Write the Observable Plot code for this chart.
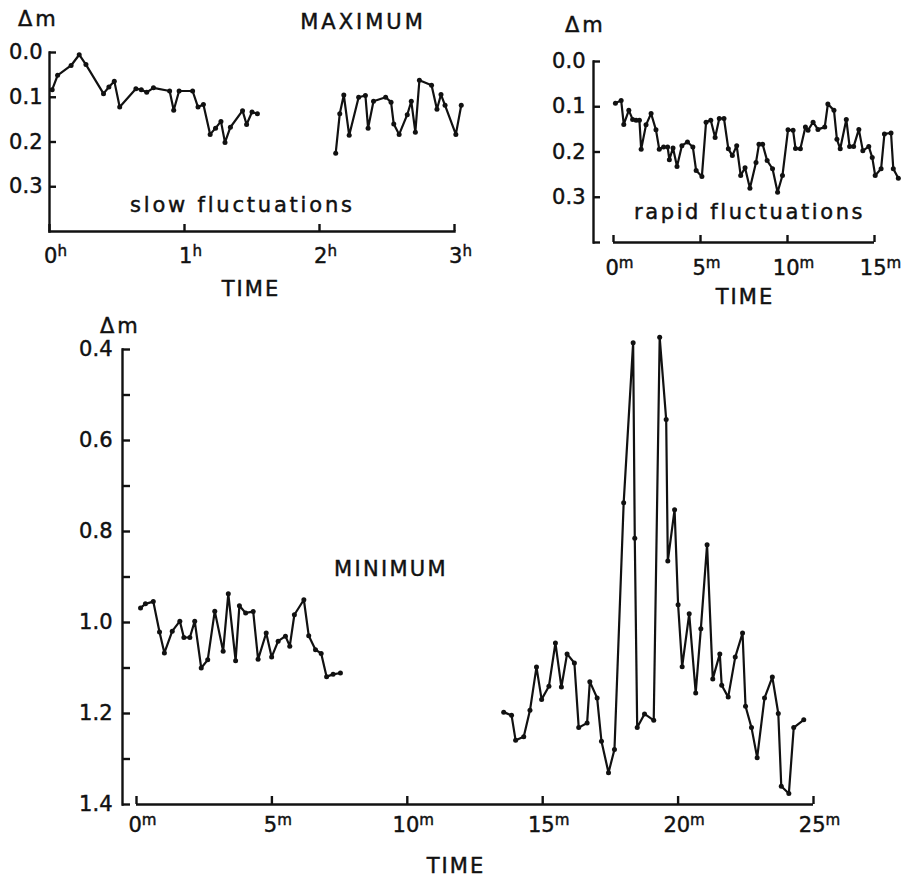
<!DOCTYPE html>
<html>
<head>
<meta charset="utf-8">
<script src="https://cdn.jsdelivr.net/npm/d3@7"></script>
<script src="https://cdn.jsdelivr.net/npm/@observablehq/plot@0.6"></script>
<style>
  body { margin: 0; background: #fff; }
  #wrap { position: relative; width: 916px; height: 879px; overflow: hidden; font-family: "DejaVu Sans", sans-serif; color: #111; background: #fff; }
  #wrap svg { position: absolute; }
  #wrap svg text { stroke: #111; stroke-width: 0.45px; }
  .lbl { position: absolute; white-space: nowrap; line-height: 1; color: #111; -webkit-text-stroke: 0.45px #111; }
</style>
</head>
<body>
<div id="wrap"></div>
<script>
// ---------- DATA ----------
// MAXIMUM, slow fluctuations (time in hours, Δm)
const slowTimeA = [0.02,0.06,0.16,0.22,0.27,0.40,0.44,0.48,0.52,0.64,0.68,0.72,0.77,0.89,0.92,0.96,1.06,1.10,1.14,1.19,1.23,1.27,1.30,1.34,1.43,1.46,1.50,1.54];
const slowDmA   = [0.083,0.051,0.029,0.005,0.027,0.092,0.077,0.064,0.122,0.081,0.083,0.089,0.079,0.086,0.129,0.086,0.086,0.122,0.116,0.183,0.169,0.154,0.201,0.167,0.130,0.161,0.133,0.137];
const slowTimeB = [2.12,2.15,2.18,2.22,2.29,2.34,2.36,2.40,2.49,2.53,2.55,2.59,2.65,2.68,2.71,2.74,2.83,2.87,2.90,2.93,3.01,3.05];
const slowDmB   = [0.225,0.137,0.095,0.185,0.100,0.096,0.169,0.109,0.100,0.111,0.160,0.183,0.139,0.109,0.178,0.062,0.073,0.127,0.094,0.118,0.183,0.118];

// MAXIMUM, rapid fluctuations (time in minutes, Δm)
const rapidTime = [0.11,0.44,0.59,0.88,1.10,1.30,1.49,1.59,1.87,2.16,2.44,2.63,2.88,3.11,3.21,3.42,3.65,3.93,4.25,4.56,4.75,5.08,5.32,5.59,5.84,6.08,6.35,6.60,6.83,7.08,7.31,7.56,7.84,8.19,8.36,8.57,8.83,9.14,9.43,9.71,10.03,10.32,10.46,10.74,11.03,11.18,11.47,11.75,12.14,12.32,12.67,12.84,13.03,13.38,13.57,13.80,14.10,14.33,14.67,14.87,15.04,15.38,15.57,15.95,16.08,16.37];
const rapidDm   = [0.092,0.086,0.139,0.108,0.128,0.130,0.130,0.194,0.140,0.115,0.151,0.194,0.189,0.189,0.217,0.191,0.232,0.186,0.178,0.189,0.241,0.254,0.134,0.130,0.168,0.126,0.126,0.193,0.208,0.186,0.252,0.235,0.280,0.223,0.183,0.183,0.219,0.237,0.289,0.252,0.151,0.152,0.192,0.193,0.145,0.152,0.134,0.150,0.145,0.094,0.108,0.172,0.193,0.128,0.188,0.188,0.150,0.197,0.188,0.212,0.252,0.237,0.160,0.158,0.237,0.258];

// MINIMUM (time in minutes, Δm)
const minTimeA = [0.15,0.33,0.62,0.85,1.03,1.32,1.60,1.75,1.97,2.15,2.39,2.63,2.89,3.20,3.39,3.66,3.80,4.03,4.31,4.49,4.79,4.99,5.23,5.50,5.66,5.83,6.18,6.36,6.61,6.82,7.02,7.26,7.53];
const minDmA   = [0.968,0.959,0.954,1.021,1.067,1.019,0.997,1.033,1.033,0.997,1.100,1.082,0.975,1.063,0.937,1.084,0.963,0.979,0.976,1.081,1.023,1.076,1.041,1.030,1.052,0.983,0.950,1.029,1.060,1.068,1.119,1.114,1.111];
const minTimeB = [13.56,13.85,14.00,14.30,14.53,14.77,14.96,15.23,15.47,15.69,15.90,16.17,16.33,16.64,16.74,17.01,17.17,17.43,17.65,17.99,18.34,18.40,18.49,18.76,19.10,19.32,19.56,19.62,19.87,20.00,20.15,20.41,20.65,20.84,21.07,21.28,21.54,21.61,21.85,22.11,22.38,22.49,22.71,22.92,23.19,23.48,23.70,23.81,24.09,24.27,24.64];
const minDmB   = [1.197,1.204,1.259,1.251,1.193,1.098,1.169,1.140,1.045,1.142,1.069,1.089,1.231,1.221,1.130,1.166,1.261,1.330,1.279,0.737,0.385,0.815,1.231,1.201,1.215,0.373,0.554,0.865,0.752,0.961,1.097,0.981,1.155,1.014,0.829,1.124,1.069,1.138,1.164,1.076,1.023,1.184,1.231,1.297,1.166,1.120,1.200,1.360,1.376,1.231,1.214];

// Ticks
const slowHourTicks  = [0, 1, 2, 3];
const maxDmLabels    = [0.0, 0.1, 0.2, 0.3];
const rapidDmTicks   = [0.0, 0.1, 0.2, 0.3, 0.4];
const rapidMinTicks  = [0, 5, 10, 15];
const minMinTicks    = [0, 5, 10, 15, 20, 25];
const minDmTicks     = [0.4, 0.5, 0.6, 0.7, 0.8, 0.9, 1.0, 1.1, 1.2, 1.3, 1.4];
const minDmLabels    = [0.4, 0.6, 0.8, 1.0, 1.2, 1.4];

// Text
const labelDm = "Δm";
const labelTime = "TIME";
const titleMax = "MAXIMUM";
const titleMin = "MINIMUM";
const noteSlow = "slow fluctuations";
const noteRapid = "rapid fluctuations";

// ---------- BUILD ----------
const zip = (ts, ds, seg) => ts.map((t, i) => ({t, dm: ds[i], seg}));
const slowData  = [...zip(slowTimeA, slowDmA, "a"), ...zip(slowTimeB, slowDmB, "b")];
const rapidData = zip(rapidTime, rapidDm, "a");
const minData   = [...zip(minTimeA, minDmA, "a"), ...zip(minTimeB, minDmB, "b")];

const FONT = '"DejaVu Sans", sans-serif';
const INK = "#111";
const LW = 2.2;
const AW = 2.4;
const wrap = document.getElementById("wrap");
const f1 = d3.format(".1f");

function superscript(svg, suffix) {
  svg.querySelectorAll('g[aria-label="x-axis tick label"] text').forEach(t => {
    const s = document.createElementNS("http://www.w3.org/2000/svg", "tspan");
    s.setAttribute("dy", "-0.5em");
    s.setAttribute("font-size", "0.72em");
    s.textContent = suffix;
    t.appendChild(s);
    t.setAttribute("dx", "6");
  });
}

function place(svg, left, top) {
  svg.style.left = left + "px";
  svg.style.top = top + "px";
  wrap.appendChild(svg);
}

function addLabel(text, x, baseline, {size = 21, anchor = "start", ls = 2} = {}) {
  const d = document.createElement("div");
  d.className = "lbl";
  d.textContent = text;
  d.style.fontSize = size + "px";
  d.style.letterSpacing = ls + "px";
  d.style.top = (baseline - 0.846 * size) + "px";
  d.style.left = x + "px";
  if (anchor === "middle") d.style.transform = "translateX(-50%)";
  wrap.appendChild(d);
}

const baseStyle = {fontFamily: FONT, fontSize: "21px", color: INK, background: "transparent", overflow: "visible"};

// Panel 1: MAXIMUM slow fluctuations
const p1 = Plot.plot({
  width: 480, height: 310,
  marginLeft: 49, marginRight: 26, marginTop: 52, marginBottom: 79,
  style: baseStyle,
  x: {domain: [0, 3]},
  y: {domain: [0, 0.4], reverse: true},
  marks: [
    Plot.frame({anchor: "left", strokeWidth: AW}),
    Plot.frame({anchor: "bottom", strokeWidth: AW}),
    Plot.axisY(maxDmLabels, {tickSize: -7, tickPadding: 14, strokeWidth: AW, tickFormat: f1, label: null}),
    Plot.axisX(slowHourTicks, {tickSize: -7, tickPadding: 24, strokeWidth: AW, tickFormat: d => String(d), label: null}),
    Plot.line(slowData, {x: "t", y: "dm", z: "seg", stroke: INK, strokeWidth: LW}),
    Plot.dot(slowData, {x: "t", y: "dm", r: 2.5, fill: INK})
  ]
});
superscript(p1, "h");
place(p1, 0, 0);

// Panel 2: MAXIMUM rapid fluctuations
const p2 = Plot.plot({
  width: 376, height: 320,
  marginLeft: 53, marginRight: 42, marginTop: 61, marginBottom: 78,
  style: baseStyle,
  x: {domain: [0, 15], insetLeft: 20},
  y: {domain: [0, 0.4], reverse: true},
  marks: [
    Plot.frame({anchor: "left", strokeWidth: AW}),
    Plot.ruleY([0.4], {x1: () => d3.min(rapidMinTicks), x2: () => d3.max(rapidMinTicks), strokeWidth: AW}),
    Plot.axisY(rapidDmTicks, {tickSize: -7, tickPadding: 15, strokeWidth: AW, tickFormat: d => maxDmLabels.includes(d) ? f1(d) : "", label: null}),
    Plot.axisX(rapidMinTicks, {tickSize: -7, tickPadding: 25, strokeWidth: AW, tickFormat: d => String(d), label: null}),
    Plot.line(rapidData, {x: "t", y: "dm", stroke: INK, strokeWidth: LW}),
    Plot.dot(rapidData, {x: "t", y: "dm", r: 2.5, fill: INK})
  ]
});
superscript(p2, "m");
place(p2, 540, 0);

// Panel 3: MINIMUM
const p3 = Plot.plot({
  width: 916, height: 579,
  marginLeft: 122, marginRight: 103, marginTop: 49, marginBottom: 75,
  style: baseStyle,
  x: {domain: [0, 25], insetLeft: 14},
  y: {domain: [0.4, 1.4], reverse: true},
  marks: [
    Plot.frame({anchor: "left", strokeWidth: AW}),
    Plot.ruleY([1.4], {x1: () => d3.min(minMinTicks), x2: () => d3.max(minMinTicks), strokeWidth: AW}),
    Plot.axisY(minDmTicks, {tickSize: -8, tickPadding: 18, strokeWidth: AW, tickFormat: d => minDmLabels.includes(d) ? f1(d) : "", label: null}),
    Plot.axisX(minMinTicks, {tickSize: -8, tickPadding: 21, strokeWidth: AW, tickFormat: d => String(d), label: null}),
    Plot.line(minData, {x: "t", y: "dm", z: "seg", stroke: INK, strokeWidth: LW}),
    Plot.dot(minData, {x: "t", y: "dm", r: 2.5, fill: INK})
  ]
});
superscript(p3, "m");
place(p3, 0, 300);

// Titles and annotations
addLabel(labelDm, 18, 27, {ls: 3});
addLabel(titleMax, 363, 30, {anchor: "middle", ls: 3});
addLabel(noteSlow, 130, 213, {ls: 2.8});
addLabel(labelTime, 251, 297, {anchor: "middle", ls: 2});
addLabel(labelDm, 565, 33, {ls: 3});
addLabel(noteRapid, 634, 220, {ls: 2.6});
addLabel(labelTime, 745, 305, {anchor: "middle", ls: 2});
addLabel(labelDm, 100, 334, {ls: 3});
addLabel(titleMin, 334, 577, {ls: 2.3});
addLabel(labelTime, 456, 874, {anchor: "middle", ls: 2});
</script>
</body>
</html>
